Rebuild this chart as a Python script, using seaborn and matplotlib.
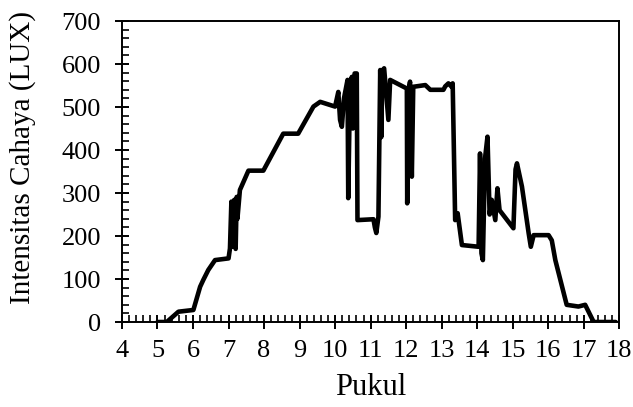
import matplotlib
matplotlib.use("Agg")
import matplotlib.pyplot as plt
import seaborn as sns
import pandas as pd
from matplotlib.ticker import MultipleLocator

# Time of day (hours) and light intensity (LUX)
pukul = [5.0, 5.26, 5.59, 6.01, 6.20, 6.29, 6.43, 6.62, 7.00, 7.04, 7.08, 7.10,
         7.14, 7.16, 7.20, 7.23, 7.25, 7.32, 7.56, 7.98, 8.54, 8.96, 9.39, 9.58,
         10.00, 10.09, 10.14, 10.19, 10.25, 10.35, 10.37, 10.42, 10.47, 10.50,
         10.55, 10.61, 10.63, 11.08, 11.12, 11.16, 11.22, 11.27, 11.30, 11.33,
         11.38, 11.41, 11.50, 11.55, 12.02, 12.03, 12.08, 12.11, 12.16, 12.20,
         12.54, 12.68, 13.05, 13.10, 13.19, 13.28, 13.31, 13.38, 13.45, 13.57,
         14.04, 14.08, 14.12, 14.16, 14.22, 14.29, 14.35, 14.41, 14.51, 14.57,
         14.63, 15.02, 15.08, 15.12, 15.26, 15.45, 15.51, 15.59, 16.01, 16.10,
         16.20, 16.52, 16.85, 17.04, 17.28, 17.90]
lux = [0, 0, 24, 28, 82, 98, 121, 144, 148, 171, 280, 175,
       214, 284, 170, 291, 240, 307, 352, 352, 438, 438, 501, 512,
       501, 535, 470, 454, 520, 563, 288, 550, 570, 450,
       578, 578, 237, 239, 220, 207, 245, 586, 430, 585,
       590, 560, 470, 563, 543, 276, 545, 559, 338, 547,
       551, 540, 540, 548, 555, 547, 555, 237, 253, 179,
       175, 392, 160, 144, 380, 431, 250, 284, 237, 311,
       260, 218, 355, 369, 315, 206, 175, 202, 202, 190,
       144, 40, 36, 40, 0, 0]

df = pd.DataFrame({"Pukul": pukul, "Lux": lux})

sns.set_theme(style="white")
plt.rcParams["font.family"] = ["Liberation Serif", "DejaVu Serif"]

fig = plt.figure(figsize=(6.33, 4.07), dpi=100)
ax = fig.add_axes([0.1927, 0.2088, 0.7856, 0.7396])

sns.lineplot(data=df, x="Pukul", y="Lux", sort=False, estimator=None,
             color="black", linewidth=3.3, ax=ax)

ax.set_xlim(4, 18)
ax.set_ylim(0, 700)
ax.xaxis.set_major_locator(MultipleLocator(1))
ax.xaxis.set_minor_locator(MultipleLocator(0.2))
ax.yaxis.set_major_locator(MultipleLocator(100))
ax.yaxis.set_minor_locator(MultipleLocator(20))

ax.tick_params(which="major", direction="inout", length=10, width=1.4,
               labelsize=19, colors="black")
ax.tick_params(axis="x", which="major", pad=8)
ax.tick_params(axis="y", which="major", pad=10)
ax.tick_params(which="minor", direction="in", length=5, width=1.2,
               colors="black")
ax.tick_params(axis="x", which="both", bottom=True, top=False)
ax.tick_params(axis="y", which="both", left=True, right=False)

for s in ax.spines.values():
    s.set_visible(True)
    s.set_color("black")
    s.set_linewidth(1.4)

ax.set_xlabel("Pukul", fontsize=22, color="black", labelpad=8)
ax.set_ylabel("Intensitas Cahaya (LUX)", fontsize=21, color="black")
ax.yaxis.set_label_coords(-0.173, 0.545)

fig.savefig("out.png", dpi=100)
